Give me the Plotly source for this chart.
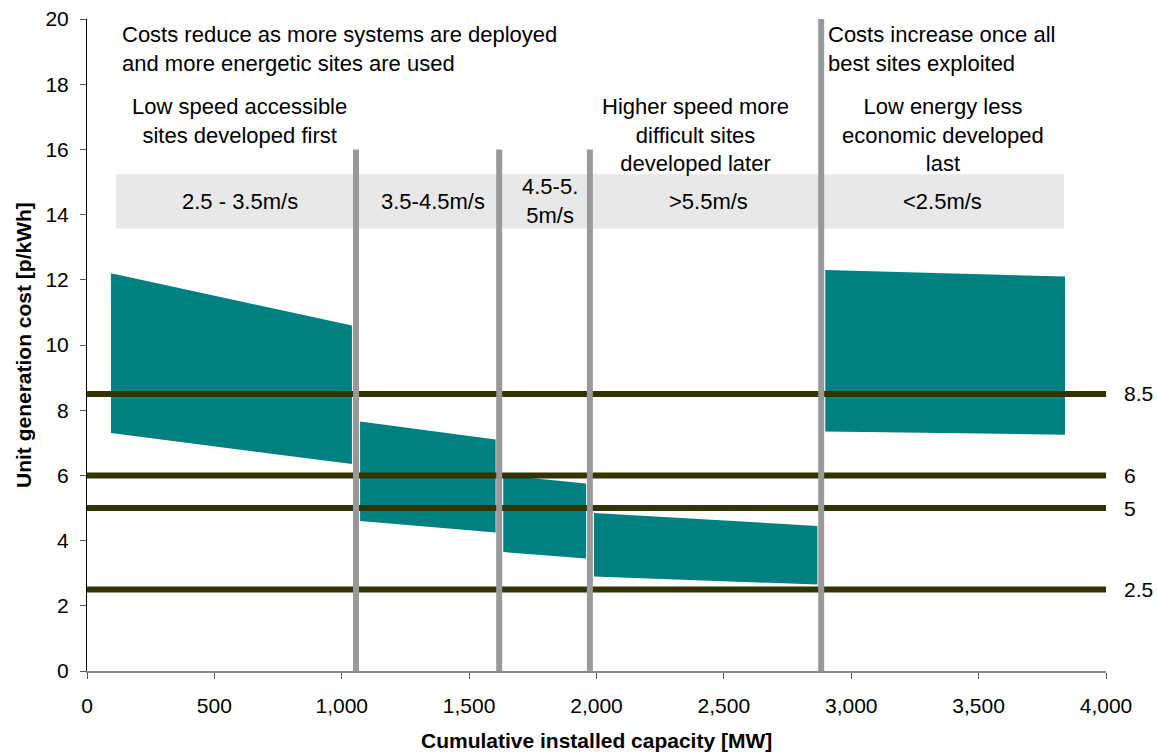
import plotly.graph_objects as go

# ---- data ----
band_x_start = [94, 1072, 1634, 1990, 2898]
band_x_end = [1040, 1604, 1959, 2867, 3839]
band_top_start = [12.2, 7.65, 6.0, 4.85, 12.3]
band_top_end = [10.6, 7.1, 5.75, 4.45, 12.1]
band_low_start = [7.3, 4.6, 3.65, 2.9, 7.35]
band_low_end = [6.35, 4.25, 3.45, 2.65, 7.25]

threshold_values = [8.5, 6, 5, 2.5]
threshold_labels = ["8.5", "6", "5", "2.5"]

divider_x = [1056, 1618, 1974, 2882]
divider_top = [16, 16, 16, 20]

speed_box_x = [114, 3835]
speed_box_y = [13.57, 15.24]
speed_labels = ["2.5 - 3.5m/s", "3.5-4.5m/s", "4.5-5.<br>5m/s", ">5.5m/s", "<2.5m/s"]
speed_label_x = [600, 1358, 1817, 2441, 3360]

phase_labels = ["Low speed accessible<br>sites developed first",
                "Higher speed more<br>difficult sites<br>developed later",
                "Low energy less<br>economic developed<br>last"]
phase_label_x = [600, 2387, 3360]

headline_labels = ["Costs reduce as more systems are deployed<br>and more energetic sites are used",
                   "Costs increase once all<br>best sites exploited"]
headline_x = [130, 2900]

x_ticks = [0, 500, 1000, 1500, 2000, 2500, 3000, 3500, 4000]
x_tick_text = ["0", "500", "1,000", "1,500", "2,000", "2,500", "3,000", "3,500", "4,000"]
y_ticks = [0, 2, 4, 6, 8, 10, 12, 14, 16, 18, 20]

X_MAX = 4000
Y_MAX = 20

FONT = "Liberation Sans, Arial, sans-serif"
TEAL = "#008080"
TXT = 22

fig = go.Figure()

# speed band box
fig.add_trace(go.Scatter(
    x=[speed_box_x[0], speed_box_x[1], speed_box_x[1], speed_box_x[0], speed_box_x[0]],
    y=[speed_box_y[0], speed_box_y[0], speed_box_y[1], speed_box_y[1], speed_box_y[0]],
    fill="toself", fillcolor="#e8e8e8", line=dict(width=0, color="#e8e8e8"),
    mode="lines", hoverinfo="skip", showlegend=False))

# cost bands
for xs, xe, ts, te, ls, le in zip(band_x_start, band_x_end, band_top_start,
                                  band_top_end, band_low_start, band_low_end):
    fig.add_trace(go.Scatter(
        x=[xs, xe, xe, xs, xs], y=[ts, te, le, ls, ts],
        fill="toself", fillcolor=TEAL, line=dict(width=0, color=TEAL),
        mode="lines", showlegend=False))

# threshold lines
for v in threshold_values:
    fig.add_trace(go.Scatter(
        x=[0, X_MAX], y=[v, v], mode="lines",
        line=dict(color="#333300", width=6), showlegend=False))

# dividers
for dx, dt in zip(divider_x, divider_top):
    fig.add_trace(go.Scatter(
        x=[dx, dx], y=[0, dt], mode="lines",
        line=dict(color="#999999", width=6), showlegend=False))

annotations = []
for lbl, v in zip(threshold_labels, threshold_values):
    annotations.append(dict(x=1.0157, y=v / Y_MAX, xref="paper", yref="paper", text=lbl,
                            showarrow=False, xanchor="left", yanchor="middle",
                            font=dict(size=21, family=FONT, color="#000")))
for lbl, x in zip(speed_labels, speed_label_x):
    annotations.append(dict(x=x, y=sum(speed_box_y) / 2, xref="x", yref="y", text=lbl,
                            showarrow=False, xanchor="center", yanchor="middle",
                            font=dict(size=TXT, family=FONT, color="#000")))
for lbl, x in zip(phase_labels, phase_label_x):
    annotations.append(dict(x=x, y=17.75, xref="x", yref="y", text=lbl,
                            showarrow=False, xanchor="center", yanchor="top",
                            font=dict(size=TXT, family=FONT, color="#000")))
for lbl, x in zip(headline_labels, headline_x):
    annotations.append(dict(x=x / X_MAX, y=0.999, xref="paper", yref="paper", text=lbl, align="left",
                            showarrow=False, xanchor="left", yanchor="top",
                            font=dict(size=TXT, family=FONT, color="#000")))
# axis titles
annotations.append(dict(x=0.5, y=-0.107, xref="paper", yref="paper",
                        text="<b>Cumulative installed capacity [MW]</b>", showarrow=False,
                        xanchor="center", yanchor="middle",
                        font=dict(size=21, family=FONT, color="#000")))
annotations.append(dict(x=-0.0628, y=0.5, xref="paper", yref="paper", textangle=-90,
                        text="<b>Unit generation cost [p/kWh]</b>", showarrow=False,
                        xanchor="center", yanchor="middle",
                        font=dict(size=21, family=FONT, color="#000")))

fig.update_layout(
    width=1157, height=753,
    margin=dict(l=87, r=51, t=19, b=82, autoexpand=False),
    paper_bgcolor="white", plot_bgcolor="white",
    font=dict(family=FONT, size=21, color="#000"),
    annotations=annotations,
    xaxis=dict(range=[0, X_MAX], tickvals=x_ticks, ticktext=x_tick_text,
               showgrid=False, zeroline=False, showline=True, linecolor="#888888", linewidth=2,
               ticks="outside", ticklen=6, tickcolor="#555555", automargin=False,
               ticklabelstandoff=9, ticklabeloverflow="allow", tickfont=dict(size=21)),
    yaxis=dict(range=[0, Y_MAX], tickvals=y_ticks,
               showgrid=False, zeroline=False, showline=True, linecolor="#000000", linewidth=1,
               ticks="outside", ticklen=6, tickcolor="#555555", automargin=False,
               ticklabelstandoff=7, ticklabeloverflow="allow", tickfont=dict(size=21)),
)

# remove the default 8px page margin so the figure fills the window exactly
fig.write_html("out.html",
               config={"displayModeBar": False},
               post_script="document.body.style.margin='0';document.body.style.overflow='hidden';")
